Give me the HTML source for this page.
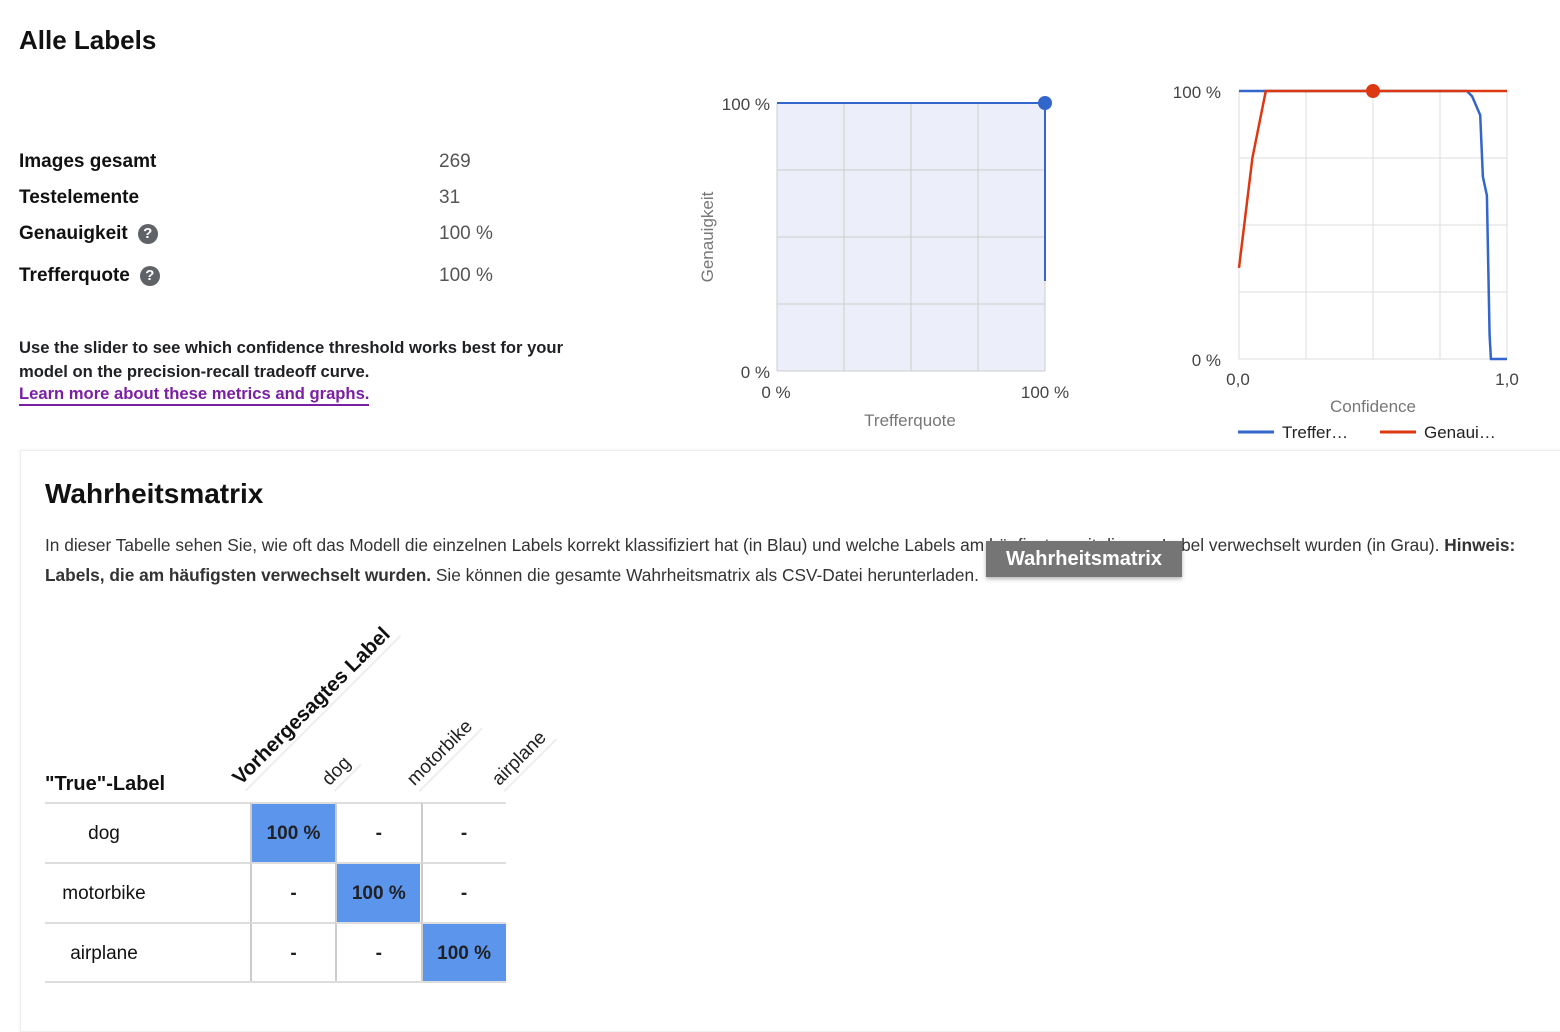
<!DOCTYPE html>
<html><head><meta charset="utf-8">
<style>
body{margin:0;width:1560px;height:1010px;background:#fff;font-family:"Liberation Sans",sans-serif;position:relative;overflow:hidden;color:#202124}
.abs{position:absolute;white-space:nowrap}
.lbl{font-size:19px;font-weight:bold;color:#111}
.val{font-size:19px;color:#555}
.q{display:inline-block;width:20px;height:20px;border-radius:50%;background:#5f6368;color:#fff;font-size:15px;text-align:center;line-height:20px;font-weight:bold;vertical-align:middle;margin-left:10px}
.cell{position:absolute;width:85px;height:60px;text-align:center;line-height:60px;font-size:19px;font-weight:bold;box-sizing:border-box}
</style></head><body>
<div class="abs" style="left:19px;top:25px;font-size:26px;font-weight:bold;color:#111">Alle Labels</div>

<div class="abs lbl" style="left:19px;top:151px">Images gesamt</div>
<div class="abs val" style="left:439px;top:151px">269</div>
<div class="abs lbl" style="left:19px;top:187px">Testelemente</div>
<div class="abs val" style="left:439px;top:187px">31</div>
<div class="abs lbl" style="left:19px;top:223px">Genauigkeit<span class="q">?</span></div>
<div class="abs val" style="left:439px;top:223px">100 %</div>
<div class="abs lbl" style="left:19px;top:265px">Trefferquote<span class="q">?</span></div>
<div class="abs val" style="left:439px;top:265px">100 %</div>

<div class="abs" style="left:19px;top:336px;font-size:16.6px;font-weight:bold;line-height:24px;color:#202124">Use the slider to see which confidence threshold works best for your<br>model on the precision-recall tradeoff curve.</div>
<a class="abs" style="left:19px;top:384px;font-size:16.6px;font-weight:bold;color:#7b1fa2;text-decoration:none;border-bottom:2px solid #7b1fa2;line-height:20px">Learn more about these metrics and graphs.</a>

<svg class="abs" style="left:0;top:0" width="1560" height="450" id="charts"></svg>

<div class="abs" style="left:20px;top:450px;width:1560px;height:580px;border:1px solid #eee;box-shadow:0 0 3px rgba(0,0,0,0.08)"></div>
<div class="abs" style="left:45px;top:478px;font-size:28px;font-weight:bold;color:#111">Wahrheitsmatrix</div>
<div class="abs" style="left:45px;top:530px;font-size:17.3px;line-height:30px;color:#333">In dieser Tabelle sehen Sie, wie oft das Modell die einzelnen Labels korrekt klassifiziert hat (in Blau) und welche Labels am häufigsten mit diesem Label verwechselt wurden (in Grau). <b>Hinweis:</b><br><b>Labels, die am häufigsten verwechselt wurden.</b> Sie können die gesamte Wahrheitsmatrix als CSV-Datei herunterladen.</div>
<div class="abs" style="left:986px;top:541px;width:196px;height:36px;background:#757575;color:#fff;font-size:20px;font-weight:bold;line-height:36px;text-align:center;box-shadow:0 2px 4px rgba(0,0,0,0.3)">Wahrheitsmatrix</div>

<div id="matrix"></div>

<script>
const NS="http://www.w3.org/2000/svg";
const svg=document.getElementById('charts');
function mk(tag,attrs,parent){const e=document.createElementNS(NS,tag);for(const k in attrs)e.setAttribute(k,attrs[k]);(parent||svg).appendChild(e);return e;}
function txt(x,y,s,attrs){const t=mk('text',Object.assign({x:x,y:y,'font-family':'Liberation Sans, sans-serif','font-size':17,fill:'#444'},attrs||{}));t.textContent=s;return t;}

// PR curve data
const prRecall=[0,1,1];
const prPrecision=[1,1,0.336];
const prSelected=[1,1];
// Threshold chart data
const confX=[0,0.05,0.1,0.2,0.3,0.4,0.5,0.6,0.7,0.8,0.85,0.87,0.9,0.91,0.925,0.935,0.94,1.0];
const recallY=[1,1,1,1,1,1,1,1,1,1,1,0.98,0.91,0.68,0.61,0.09,0,0];
const precisionY=[0.34,0.75,1,1,1,1,1,1,1,1,1,1,1,1,1,1,1,1];
const selectedConf=[0.5,1];

// Chart 1
const c1={x0:777,x1:1045,y0:371,y1:103};
const sx1=v=>c1.x0+v*(c1.x1-c1.x0), sy1=v=>c1.y0-v*(c1.y0-c1.y1);
mk('rect',{x:c1.x0,y:c1.y1,width:c1.x1-c1.x0,height:c1.y0-c1.y1,fill:'#eceff9'});
for(let i=0;i<=4;i++){mk('line',{x1:sx1(i/4),x2:sx1(i/4),y1:c1.y1,y2:c1.y0,stroke:'#ccc'});mk('line',{x1:c1.x0,x2:c1.x1,y1:sy1(i/4),y2:sy1(i/4),stroke:'#ccc'});}
let p1=mk('polyline',{points:prRecall.map((r,i)=>sx1(r)+','+sy1(prPrecision[i])).join(' '),fill:'none',stroke:'#3366cc','stroke-width':2});


let d1=mk('circle',{cx:sx1(prSelected[0]),cy:sy1(prSelected[1]),r:7,fill:'#3366cc'});


txt(770,110,'100 %',{'text-anchor':'end'});
txt(770,378,'0 %',{'text-anchor':'end'});
txt(776,398,'0 %',{'text-anchor':'middle'});
txt(1045,398,'100 %',{'text-anchor':'middle'});
txt(910,426,'Trefferquote',{'text-anchor':'middle',fill:'#777'});
txt(713,237,'Genauigkeit',{'text-anchor':'middle',fill:'#777',transform:'rotate(-90 713 237)'});

// Chart 2
const c2={x0:1239,x1:1507,y0:359,y1:91};
const sx2=v=>c2.x0+v*(c2.x1-c2.x0), sy2=v=>c2.y0-v*(c2.y0-c2.y1);
for(let i=0;i<=4;i++){mk('line',{x1:sx2(i/4),x2:sx2(i/4),y1:c2.y1,y2:c2.y0,stroke:'#ddd'});mk('line',{x1:c2.x0,x2:c2.x1,y1:sy2(i/4),y2:sy2(i/4),stroke:'#ddd'});}
let rl=mk('polyline',{points:confX.map((c,i)=>sx2(c)+','+sy2(recallY[i])).join(' '),fill:'none',stroke:'#3366cc','stroke-width':2.5});


let pl=mk('polyline',{points:confX.map((c,i)=>sx2(c)+','+sy2(precisionY[i])).join(' '),fill:'none',stroke:'#dc3912','stroke-width':2.5});


let d2=mk('circle',{cx:sx2(selectedConf[0]),cy:sy2(selectedConf[1]),r:7,fill:'#dc3912'});


txt(1221,98,'100 %',{'text-anchor':'end'});
txt(1221,366,'0 %',{'text-anchor':'end'});
txt(1238,385,'0,0',{'text-anchor':'middle'});
txt(1507,385,'1,0',{'text-anchor':'middle'});
txt(1373,412,'Confidence',{'text-anchor':'middle',fill:'#777'});
mk('line',{x1:1238,x2:1274,y1:432,y2:432,stroke:'#3366cc','stroke-width':3});
txt(1282,438,'Treffer…',{fill:'#222'});
mk('line',{x1:1380,x2:1416,y1:432,y2:432,stroke:'#dc3912','stroke-width':3});
txt(1424,438,'Genaui…',{fill:'#222'});

// Matrix
const labels=['dog','motorbike','airplane'];
const matrixVals=[[100,0,0],[0,100,0],[0,0,100]];
const m=document.getElementById('matrix');
function div(style,html){const d=document.createElement('div');d.className='abs';d.style.cssText=style;if(html!==undefined)d.innerHTML=html;m.appendChild(d);return d;}
let h=div('left:45px;top:773px;font-size:20px;font-weight:bold;color:#111','"True"-Label');


let vh=div('left:228px;top:773px;font-size:20.5px;font-weight:bold;color:#111;transform-origin:0 0;transform:rotate(-45deg);border-bottom:2px solid #eee;padding-right:6px','Vorhergesagtes Label');


labels.forEach((l,j)=>{
  const d=div(`left:${318+j*85}px;top:775px;font-size:19px;color:#222;transform-origin:0 0;transform:rotate(-45deg);border-bottom:2px solid #eee;padding-right:6px`,l);
  
  
});
labels.forEach((l,i)=>{
  const y=802+i*60;
  const row=div(`left:45px;top:${y}px;width:461px;height:60px;border-top:2px solid #ddd;box-sizing:border-box`);
  
  
  const rl=div(`left:45px;top:${y+2}px;width:118px;line-height:60px;text-align:center;font-size:19px;color:#111`,l);
  
  
  matrixVals[i].forEach((v,j)=>{
    const c=document.createElement('div');c.className='cell';
    c.style.left=(250+j*85.3)+'px';c.style.top=y+'px';
    c.style.background=v>0?'#5b95ec':'#fff';
    c.style.borderLeft='2px solid #ccc';c.style.borderTop='2px solid #ddd';
    c.textContent=v>0?v+' %':'-';
    
    
    m.appendChild(c);
  });
});
const bt=div('left:45px;top:981px;width:461px;height:2px;background:#ddd');


</script>
</body></html>
